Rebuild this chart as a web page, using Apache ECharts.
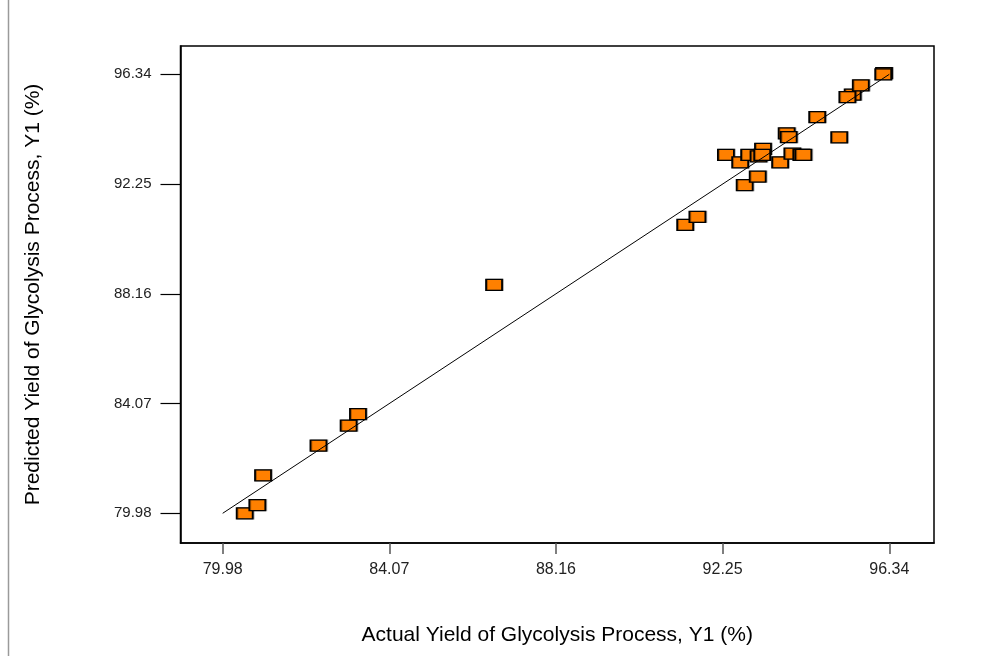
<!DOCTYPE html>
<html>
<head>
<meta charset="utf-8">
<script src="https://cdn.jsdelivr.net/npm/echarts@6/dist/echarts.min.js"></script>
<style>
html,body{margin:0;padding:0;background:#fff;}
#chart{width:989px;height:656px;}
</style>
</head>
<body>
<div id="chart"></div>
<script>
// Actual vs predicted yield (%)
const actual = [80.52, 80.83, 80.97, 82.33, 83.07, 83.30, 86.64, 91.33, 91.63, 92.79, 93.11,
  92.33, 92.68, 92.90, 93.13, 93.24, 93.22, 93.66, 93.96, 94.18, 94.23, 93.82, 93.87,
  94.57, 95.11, 95.44, 95.31, 95.64, 96.21, 96.19];
const predicted = [79.98, 80.28, 81.39, 82.50, 83.25, 83.68, 88.49, 90.73, 91.03, 92.21, 92.53,
  93.34, 93.06, 93.34, 93.28, 93.56, 93.34, 93.06, 93.38, 93.34, 93.34, 94.14, 94.00,
  94.74, 93.99, 95.58, 95.49, 95.93, 96.38, 96.34];
const tickValues = [79.98, 84.07, 88.16, 92.25, 96.34];
const fitLine = [79.98, 96.34];
const xTitle = 'Actual Yield of Glycolysis Process, Y1 (%)';
const yTitle = 'Predicted Yield of Glycolysis Process, Y1 (%)';

const points = actual.map((a, i) => [a, predicted[i]]);
const chart = echarts.init(document.getElementById('chart'), null, {renderer: 'canvas'});
const font = 'Liberation Sans, Arial, sans-serif';
chart.setOption({
  animation: false,
  backgroundColor: '#fff',
  graphic: [{
    type: 'line', shape: {x1: 8.5, y1: 0, x2: 8.5, y2: 656},
    style: {stroke: '#9a9a9a', lineWidth: 1.5}
  }],
  grid: {left: 180.5, top: 46, right: 55, bottom: 113, show: true, borderColor: '#000', borderWidth: 1.5, backgroundColor: '#fff'},
  xAxis: {
    type: 'value', min: 78.945, max: 97.437,
    name: xTitle, nameLocation: 'middle', nameGap: 82,
    nameTextStyle: {fontFamily: font, fontSize: 21, color: '#000'},
    axisLine: {show: true, onZero: false, lineStyle: {color: '#000', width: 1.5}},
    axisTick: {show: true, customValues: tickValues, length: 11, lineStyle: {color: '#555', width: 1.5}},
    axisLabel: {customValues: tickValues, margin: 19, fontFamily: font, fontSize: 16, color: '#222',
      formatter: v => v.toFixed(2)},
    splitLine: {show: false}
  },
  yAxis: {
    type: 'value', min: 78.873, max: 97.395,
    name: yTitle, nameLocation: 'middle', nameGap: 137, nameRotate: 90,
    nameTextStyle: {fontFamily: font, fontSize: 21, color: '#000'},
    axisLine: {show: true, onZero: false, lineStyle: {color: '#000', width: 1.5}},
    axisTick: {show: true, customValues: tickValues, length: 20, lineStyle: {color: '#000', width: 1.2}},
    axisLabel: {customValues: tickValues, margin: 29, fontFamily: font, fontSize: 15, color: '#222',
      formatter: v => v.toFixed(2)},
    splitLine: {show: false}
  },
  series: [{
    type: 'line',
    data: [[fitLine[0], fitLine[0]], [fitLine[1], fitLine[1]]],
    symbol: 'none',
    lineStyle: {color: '#000', width: 1},
    z: 3
  }, {
    type: 'scatter',
    data: points,
    symbol: 'rect',
    symbolSize: [16, 11],
    itemStyle: {color: '#FF8000', borderColor: '#000', borderWidth: 1.5, opacity: 1,
      shadowColor: 'rgba(0,0,0,0.3)', shadowBlur: 0, shadowOffsetX: 1, shadowOffsetY: 0},
    z: 2
  }]
});
</script>
</body>
</html>
